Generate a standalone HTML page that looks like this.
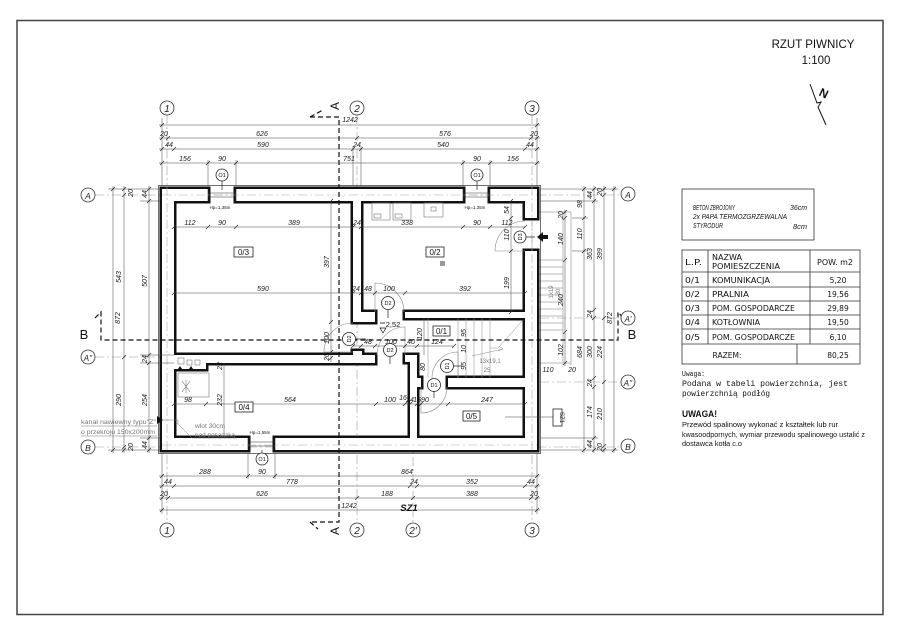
<!DOCTYPE html>
<html><head><meta charset="utf-8">
<style>
html,body{margin:0;padding:0;background:#fff;}
svg{display:block;}
.d{font-family:"Liberation Sans",sans-serif;font-style:italic;font-size:7px;fill:#1a1a1a;}
.t{font-family:"DejaVu Sans","Liberation Sans",sans-serif;font-size:7.5px;fill:#111;}
.b{font-family:"Liberation Sans",sans-serif;font-style:italic;font-size:10px;fill:#222;}
.g{font-family:"Liberation Sans",sans-serif;font-size:6px;fill:#777;}
</style></head><body>
<svg width="900" height="636" viewBox="0 0 900 636" xmlns="http://www.w3.org/2000/svg">
<rect width="900" height="636" fill="#fff"/>
<rect x="17" y="20.5" width="866" height="594" fill="none" stroke="#444" stroke-width="1.5"/>

<text x="813" y="48" text-anchor="middle" font-family="Liberation Sans,sans-serif" font-size="11.5" fill="#111">RZUT PIWNICY</text>
<text x="816" y="64" text-anchor="middle" font-family="Liberation Sans,sans-serif" font-size="11.5" fill="#111">1:100</text>
<polyline points="810,84 817,103 821,102 818,107 826,125" fill="none" stroke="#111" stroke-width="1"/>
<text transform="translate(822,97) rotate(25)" text-anchor="middle" font-family="Liberation Sans,sans-serif" font-weight="bold" font-size="12" fill="#111">N</text>

<g stroke="#999" stroke-width="0.6" stroke-dasharray="9,3,2,3" fill="none">
<path d="M167,115V523M357,115V523M532,115V523M413,440V523"/>
<path d="M95,195H621M95,357H178M95,447H621M540,318H621M540,382H621"/>
</g>

<g stroke="#777" stroke-width="0.5" fill="none">
<path d="M537,212H571M537,363H571M563,212V363M571,212V365"/>
<path d="M537,260H563M537,267H563M537,274H563M537,281H563M537,288H563M537,295H563M537,302H563M537,309H563M537,316H563M537,323H563M537,330H563"/>
</g>
<text class="g" transform="translate(553,292) rotate(-90)" text-anchor="middle">1x19</text>
<text class="g" transform="translate(560,292) rotate(-90)" text-anchor="middle">30</text>

<g fill="#111" stroke="#111" stroke-width="5">
<rect x="162" y="189" width="46" height="12"/>
<rect x="236" y="189" width="227" height="12"/>
<rect x="490" y="189" width="47" height="12"/>
<rect x="162" y="189" width="12" height="261"/>
<rect x="162" y="438" width="86" height="12"/>
<rect x="275" y="438" width="262" height="12"/>
<rect x="525" y="189" width="12" height="29"/>
<rect x="525" y="251" width="12" height="199"/>
<rect x="353" y="201" width="8" height="121"/>
<rect x="353" y="312" width="22" height="10"/>
<rect x="405" y="312" width="120" height="6"/>
<rect x="206" y="355" width="169" height="8"/>
<rect x="174" y="355" width="32" height="14"/>
<rect x="353" y="351" width="9" height="4"/>
<rect x="405" y="355" width="12" height="7"/>
<rect x="410" y="362" width="7" height="76"/>
<rect x="417" y="378" width="4" height="9"/>
<rect x="448" y="378" width="77" height="9"/>
</g>
<g fill="#fff">
<rect x="162" y="189" width="46" height="12"/>
<rect x="236" y="189" width="227" height="12"/>
<rect x="490" y="189" width="47" height="12"/>
<rect x="162" y="189" width="12" height="261"/>
<rect x="162" y="438" width="86" height="12"/>
<rect x="275" y="438" width="262" height="12"/>
<rect x="525" y="189" width="12" height="29"/>
<rect x="525" y="251" width="12" height="199"/>
<rect x="353" y="201" width="8" height="121"/>
<rect x="353" y="312" width="22" height="10"/>
<rect x="405" y="312" width="120" height="6"/>
<rect x="206" y="355" width="169" height="8"/>
<rect x="174" y="355" width="32" height="14"/>
<rect x="353" y="351" width="9" height="4"/>
<rect x="405" y="355" width="12" height="7"/>
<rect x="410" y="362" width="7" height="76"/>
<rect x="417" y="378" width="4" height="9"/>
<rect x="448" y="378" width="77" height="9"/>
</g>
<rect x="158.5" y="185.5" width="382" height="268" fill="none" stroke="#333" stroke-width="0.7"/>
<g stroke="#aaa" stroke-width="0.6" stroke-dasharray="9,3,2,3" fill="none">
<path d="M167,186V453M532,186V453M162,195H537M162,445H537"/>
</g>

<g stroke="#333" stroke-width="0.6">
<path d="M208,193H236M208,197H236M463,193H490M463,197H490M248,442H275M248,446H275"/>
<path d="M208,189V201M236,189V201M463,189V201M490,189V201M248,438V450M275,438V450"/>
</g>
<text x="220" y="209" text-anchor="middle" font-family="Liberation Sans,sans-serif" font-size="4.5" fill="#111">Hp=1,35m</text>
<text x="475" y="209" text-anchor="middle" font-family="Liberation Sans,sans-serif" font-size="4.5" fill="#111">Hp=1,35m</text>
<text x="260" y="434" text-anchor="middle" font-family="Liberation Sans,sans-serif" font-size="4.5" fill="#111">Hp=1,55m</text>

<g stroke="#777" stroke-width="0.6" fill="none">
<rect x="372" y="203" width="18" height="17"/><rect x="374" y="214" width="7" height="4"/>
<rect x="393" y="203" width="18" height="17"/><rect x="395" y="214" width="7" height="4"/>
<rect x="424" y="203" width="19" height="14"/><rect x="431" y="207" width="5" height="4"/>
<rect x="178" y="358" width="6" height="6"/><rect x="187" y="360" width="5" height="5"/><rect x="195" y="360" width="5" height="5"/>
<rect x="178" y="373" width="31" height="24"/>
<path d="M182,381L190,392M182,392L190,381M186,380V393"/>
</g>
<rect x="440" y="261" width="5" height="5" fill="#999"/>
<path d="M178,369l2,-3l2,3zM189,369l2,-3l2,3z" fill="#111"/>

<g stroke="#888" stroke-width="0.5" fill="none">
<path d="M428,318V378M458,318V378M466,318V378M474,318V378M482,318V378M490,318V378M490,348H498L523,320"/>
<path d="M472,356L503,349M499,346l4,3l-5,2"/>
</g>
<text class="g" x="490" y="363" text-anchor="middle">13x19,1</text>
<text class="g" x="487" y="372" text-anchor="middle">25</text>

<g stroke="#888" stroke-width="0.6" fill="none">
<path d="M525,251H495A30,30 0 0 1 525,221"/>
<path d="M375,312V283A29,29 0 0 1 404,312"/>
<path d="M353,352H324A29,29 0 0 1 353,323"/>
<path d="M405,355V327A28,28 0 0 0 377,355"/>
<path d="M421,387V413A26,26 0 0 0 447,387"/>
<path d="M458,378V352A26,26 0 0 0 432,378"/>
</g>

<g stroke="#444" stroke-width="0.5" fill="none">
<path d="M159,125H540M159,138H540M159,149H540M159,163H540"/>
<path d="M162,118V186M537,118V186M208,160V186M236,160V186M463,160V186M490,160V186M353,146V186M361,146V186"/>
<path d="M159,476H540M159,486H540M159,498H540M159,510H540"/>
<path d="M162,453V514M537,453V514M248,453V479M275,453V479"/>
<path d="M113,186V453M124,186V453M149,186V453"/>
<path d="M108,189H160M108,450H160M140,201H160M140,438H160M140,355H174M140,363H174"/>
<path d="M565,210V366M584,186V453M594,186V453M604,186V453M614,186V453"/>
<path d="M540,189H618M540,450H618M540,201H598M540,438H598M572,218H588M572,251H588"/>
<path d="M174,227H525M174,293H525M353,346H454M174,404H525"/>
<path d="M331,201V362M511,201V312M224,363V438M424,318V355"/>
<path d="M505,417H553"/>
</g>
<g stroke="#222" stroke-width="0.7" fill="none">
<path d="M160,127l4,-4M535,127l4,-4"/>
<path d="M160,140l4,-4M166,140l4,-4M355,140l4,-4M529,140l4,-4M535,140l4,-4"/>
<path d="M160,151l4,-4M172,151l4,-4M351,151l4,-4M359,151l4,-4M523,151l4,-4M535,151l4,-4"/>
<path d="M160,165l4,-4M206,165l4,-4M234,165l4,-4M461,165l4,-4M488,165l4,-4M535,165l4,-4"/>
<path d="M160,478l4,-4M246,478l4,-4M273,478l4,-4M535,478l4,-4"/>
<path d="M160,488l4,-4M172,488l4,-4M408,488l4,-4M415,488l4,-4M523,488l4,-4M535,488l4,-4"/>
<path d="M160,500l4,-4M166,500l4,-4M355,500l4,-4M411,500l4,-4M529,500l4,-4M535,500l4,-4"/>
<path d="M160,512l4,-4M535,512l4,-4"/>
<path d="M111,191l4,-4M111,452l4,-4"/>
<path d="M122,191l4,-4M122,197l4,-4M122,359l4,-4M122,449l4,-4M122,452l4,-4"/>
<path d="M147,191l4,-4M147,203l4,-4M147,357l4,-4M147,365l4,-4M147,440l4,-4M147,452l4,-4"/>
<path d="M563,214l4,-4M563,220l4,-4M563,262l4,-4M563,334l4,-4M563,365l4,-4"/>
<path d="M582,191l4,-4M582,220l4,-4M582,253l4,-4M582,452l4,-4"/>
<path d="M592,191l4,-4M592,203l4,-4M592,312l4,-4M592,320l4,-4M592,380l4,-4M592,389l4,-4M592,440l4,-4M592,452l4,-4"/>
<path d="M602,191l4,-4M602,197l4,-4M602,320l4,-4M602,384l4,-4M602,448l4,-4M602,452l4,-4"/>
<path d="M612,191l4,-4M612,452l4,-4"/>
<path d="M172,229l4,-4M206,229l4,-4M234,229l4,-4M351,229l4,-4M359,229l4,-4M461,229l4,-4M488,229l4,-4M523,229l4,-4"/>
<path d="M172,295l4,-4M351,295l4,-4M359,295l4,-4M373,295l4,-4M403,295l4,-4M523,295l4,-4"/>
<path d="M351,348l4,-4M359,348l4,-4M373,348l4,-4M403,348l4,-4M415,348l4,-4M452,348l4,-4"/>
<path d="M172,406l4,-4M204,406l4,-4M374,406l4,-4M403,406l4,-4M408,406l4,-4M415,406l4,-4M419,406l4,-4M446,406l4,-4M523,406l4,-4"/>
<path d="M329,203l4,-4M329,324l4,-4M329,354l4,-4M329,360l4,-4"/>
<path d="M509,203l4,-4M509,220l4,-4M509,253l4,-4M509,314l4,-4"/>
</g>

<g class="d" text-anchor="middle">
<text x="350" y="122">1242</text>
<text x="164" y="136">20</text><text x="262" y="136">626</text><text x="445" y="136">576</text><text x="534" y="136">20</text>
<text x="169" y="147">44</text><text x="263" y="147">590</text><text x="357" y="147">24</text><text x="443" y="147">540</text><text x="530" y="147">44</text>
<text x="185" y="161">156</text><text x="222" y="161">90</text><text x="349" y="161">751</text><text x="477" y="161">90</text><text x="513" y="161">156</text>
<text x="205" y="474">288</text><text x="262" y="474">90</text><text x="407" y="474">864</text>
<text x="168" y="484">44</text><text x="292" y="484">778</text><text x="414" y="484">24</text><text x="472" y="484">352</text><text x="531" y="484">44</text>
<text x="164" y="496">20</text><text x="262" y="496">626</text><text x="387" y="496">188</text><text x="472" y="496">388</text><text x="534" y="496">20</text>
<text x="349" y="508">1242</text>
<text x="190" y="225">112</text><text x="222" y="225">90</text><text x="294" y="225">389</text><text x="357" y="225">24</text><text x="407" y="225">338</text><text x="477" y="225">90</text><text x="507" y="225">112</text>
<text x="263" y="291">590</text><text x="356" y="291">24</text><text x="368" y="291">48</text><text x="389" y="291">100</text><text x="465" y="291">392</text>
<text x="368" y="344">48</text><text x="391" y="344">100</text><text x="411" y="344">40</text><text x="437" y="344">124</text>
<text x="188" y="402">98</text><text x="290" y="402">564</text><text x="390" y="402">100</text><text x="403" y="400">16</text><text x="410" y="402">24</text><text x="417" y="402">15</text><text x="425" y="402">90</text><text x="487" y="402">247</text>
<text x="548" y="372">110</text><text x="572" y="372">20</text>
</g>
<text x="409" y="511" text-anchor="middle" font-family="Liberation Sans,sans-serif" font-style="italic" font-weight="bold" font-size="9.5" fill="#111">SZ1</text>

<g class="d" text-anchor="middle">
<text transform="translate(120,318) rotate(-90)">872</text>
<text transform="translate(121,277) rotate(-90)">543</text>
<text transform="translate(121,400) rotate(-90)">290</text>
<text transform="translate(133,193) rotate(-90)">20</text>
<text transform="translate(133,447) rotate(-90)">20</text>
<text transform="translate(147,194) rotate(-90)">44</text>
<text transform="translate(147,281) rotate(-90)">507</text>
<text transform="translate(147,359) rotate(-90)">24</text>
<text transform="translate(147,400) rotate(-90)">254</text>
<text transform="translate(147,445) rotate(-90)">44</text>
<text transform="translate(563,215) rotate(-90)">20</text>
<text transform="translate(563,239) rotate(-90)">140</text>
<text transform="translate(563,300) rotate(-90)">240</text>
<text transform="translate(563,350) rotate(-90)">102</text>
<text transform="translate(582,204) rotate(-90)">98</text>
<text transform="translate(582,234) rotate(-90)">110</text>
<text transform="translate(582,352) rotate(-90)">684</text>
<text transform="translate(592,195) rotate(-90)">44</text>
<text transform="translate(592,254) rotate(-90)">363</text>
<text transform="translate(592,314) rotate(-90)">24</text>
<text transform="translate(592,352) rotate(-90)">300</text>
<text transform="translate(592,383) rotate(-90)">24</text>
<text transform="translate(592,412) rotate(-90)">174</text>
<text transform="translate(592,444) rotate(-90)">44</text>
<text transform="translate(602,192) rotate(-90)">20</text>
<text transform="translate(602,254) rotate(-90)">399</text>
<text transform="translate(602,352) rotate(-90)">224</text>
<text transform="translate(602,414) rotate(-90)">210</text>
<text transform="translate(602,447) rotate(-90)">20</text>
<text transform="translate(612,318) rotate(-90)">872</text>
<text transform="translate(329,262) rotate(-90)">397</text>
<text transform="translate(329,338) rotate(-90)">100</text>
<text transform="translate(329,357) rotate(-90)">20</text>
<text transform="translate(509,210) rotate(-90)">54</text>
<text transform="translate(509,235) rotate(-90)">110</text>
<text transform="translate(509,283) rotate(-90)">199</text>
<text transform="translate(222,400) rotate(-90)">232</text>
<text transform="translate(222,366) rotate(-90)">22</text>
<text transform="translate(422,334) rotate(-90)">120</text>
<text transform="translate(466,333) rotate(-90)">95</text>
<text transform="translate(466,349) rotate(-90)">10</text>
<text transform="translate(425,367) rotate(-90)">80</text>
<text transform="translate(466,366) rotate(-90)">95</text>
</g>

<g stroke="#111" stroke-width="1.2" stroke-dasharray="5,3" fill="none">
<path d="M310,117H339V522H310"/>
<path d="M310,117L323,110M310,522L318,529"/>
<path d="M95,318L101,312V340H618V312L624,319"/>
</g>
<text transform="translate(339,106) rotate(-90)" text-anchor="middle" font-family="Liberation Sans,sans-serif" font-size="12" fill="#111">A</text>
<text transform="translate(339,531) rotate(-90)" text-anchor="middle" font-family="Liberation Sans,sans-serif" font-size="12" fill="#111">A</text>
<text x="84" y="339" text-anchor="middle" font-family="Liberation Sans,sans-serif" font-size="13" fill="#111">B</text>
<text x="632" y="339" text-anchor="middle" font-family="Liberation Sans,sans-serif" font-size="13" fill="#111">B</text>

<g fill="#fff" stroke="#333" stroke-width="0.8">
<circle cx="167" cy="108" r="7"/><circle cx="357" cy="108" r="7"/><circle cx="532" cy="108" r="7"/>
<circle cx="167" cy="530" r="7"/><circle cx="357" cy="530" r="7"/><circle cx="413" cy="530" r="7"/><circle cx="532" cy="530" r="7"/>
<circle cx="88" cy="195" r="7"/><circle cx="88" cy="357" r="7"/><circle cx="88" cy="447" r="7"/>
<circle cx="628" cy="194" r="7"/><circle cx="628" cy="318" r="7"/><circle cx="628" cy="382" r="7"/><circle cx="628" cy="446" r="7"/>
</g>
<g class="b" text-anchor="middle">
<text x="167" y="112">1</text><text x="357" y="112">2</text><text x="532" y="112">3</text>
<text x="167" y="534">1</text><text x="357" y="534">2</text><text x="413" y="534">2'</text><text x="532" y="534">3</text>
<text x="88" y="199" font-size="8.5">A</text><text x="88" y="361" font-size="8">A''</text><text x="88" y="451" font-size="8.5">B</text>
<text x="628" y="198" font-size="8.5">A</text><text x="628" y="322" font-size="8">A'</text><text x="628" y="386" font-size="8">A''</text><text x="628" y="450" font-size="8.5">B</text>
</g>

<g stroke="#222" stroke-width="0.7">
<path d="M222,181V190M477,181V190M262,453V450M526,237H535M388,310V318M356,339H366M390,356V364M453,366H462M434,391V398"/>
</g>
<g fill="#fff" stroke="#222" stroke-width="0.8">
<circle cx="222" cy="175" r="6"/><circle cx="477" cy="175" r="6"/><circle cx="262" cy="459" r="6"/>
<circle cx="520" cy="237" r="6"/><circle cx="388" cy="303" r="6.5"/><circle cx="349" cy="339" r="6.5"/>
<circle cx="390" cy="350" r="6.5"/><circle cx="447" cy="366" r="6.5"/><circle cx="434" cy="385" r="6.5"/>
</g>
<g font-family="Liberation Sans,sans-serif" font-size="5.5" fill="#111" text-anchor="middle">
<text x="222" y="177">O1</text><text x="477" y="177">O1</text><text x="262" y="461">O1</text>
<text transform="translate(522,237) rotate(-90)">D3</text>
<text x="388" y="305">D2</text>
<text transform="translate(351,339) rotate(-90)">D2</text>
<text x="390" y="352">D2</text>
<text transform="translate(449,366) rotate(-90)">D1</text>
<text x="434" y="387">D1</text>
</g>
<path d="M537,237L543,232V235H548V239H543V242Z" fill="#111"/>
<path d="M380,323H385" stroke="#111" stroke-width="0.8"/>
<path d="M380,328H386L383,333Z" fill="none" stroke="#111" stroke-width="0.7"/>
<text x="393" y="327" text-anchor="middle" font-family="Liberation Sans,sans-serif" font-size="7.5" fill="#111">2,52</text>

<g fill="#fff" stroke="#222" stroke-width="0.8">
<rect x="234" y="247" width="19" height="10"/><rect x="426" y="247" width="18" height="10"/>
<rect x="433" y="326" width="17" height="10"/><rect x="235" y="402" width="18" height="10"/>
<rect x="463" y="411" width="17" height="10"/><rect x="553" y="409" width="9" height="17"/>
</g>
<g font-family="Liberation Sans,sans-serif" font-size="8" fill="#111" text-anchor="middle">
<text x="243.5" y="255">0/3</text><text x="435" y="255">0/2</text><text x="441.5" y="334">0/1</text>
<text x="244" y="410">0/4</text><text x="471.5" y="419">0/5</text>
<text transform="translate(560,417.5) rotate(90)" font-size="6">SZ1</text>
</g>

<g font-family="Liberation Sans,sans-serif" font-size="6.5" fill="#777">
<text x="81" y="424" textLength="75" lengthAdjust="spacingAndGlyphs">kanał nawiewny typu"Z"</text>
<text x="81" y="434" textLength="74" lengthAdjust="spacingAndGlyphs">o przekroju 150x200mm</text>
<text x="195" y="428" textLength="30" lengthAdjust="spacingAndGlyphs">wlot 30cm</text>
<text x="195" y="437" textLength="40" lengthAdjust="spacingAndGlyphs">nad posadzką</text>
</g>
<g stroke="#777" stroke-width="0.5" fill="none">
<path d="M81,426H157M81,436H157M160,420H178V424M177,423L192,438H237"/>
</g>
<path d="M157,416L163,420L157,424Z" fill="#111"/>

<rect x="682" y="189" width="132" height="51" fill="none" stroke="#333" stroke-width="0.8"/>
<g font-family="Liberation Sans,sans-serif" font-style="italic" font-size="7.5" fill="#111">
<text x="693" y="210" textLength="42" lengthAdjust="spacingAndGlyphs">BETON ZBROJONY</text>
<text x="790" y="210" textLength="17" lengthAdjust="spacingAndGlyphs">36cm</text>
<text x="693" y="219" textLength="94" lengthAdjust="spacingAndGlyphs">2x PAPA TERMOZGRZEWALNA</text>
<text x="693" y="228" textLength="30" lengthAdjust="spacingAndGlyphs">STYRODUR</text>
<text x="793" y="229" textLength="14" lengthAdjust="spacingAndGlyphs">8cm</text>
</g>

<g stroke="#333" stroke-width="0.8" fill="none">
<rect x="682" y="250" width="178" height="114"/>
<path d="M682,272H860M682,287H860M682,301H860M682,315H860M682,329H860M682,344H860"/>
<path d="M708,250V344M810,250V344M797,344V364"/>
</g>
<g class="t">
<text x="685" y="265" textLength="17" lengthAdjust="spacingAndGlyphs">L.P.</text>
<text x="712" y="260" textLength="30" lengthAdjust="spacingAndGlyphs">NAZWA</text>
<text x="712" y="269" textLength="68" lengthAdjust="spacingAndGlyphs">POMIESZCZENIA</text>
<text x="817" y="265" textLength="36" lengthAdjust="spacingAndGlyphs">POW. m2</text>
<text x="685" y="283" textLength="15" lengthAdjust="spacingAndGlyphs">0/1</text>
<text x="712" y="283" textLength="58" lengthAdjust="spacingAndGlyphs">KOMUNIKACJA</text>
<text x="685" y="297" textLength="15" lengthAdjust="spacingAndGlyphs">0/2</text>
<text x="712" y="297" textLength="37" lengthAdjust="spacingAndGlyphs">PRALNIA</text>
<text x="685" y="311" textLength="15" lengthAdjust="spacingAndGlyphs">0/3</text>
<text x="712" y="311" textLength="83" lengthAdjust="spacingAndGlyphs">POM. GOSPODARCZE</text>
<text x="685" y="325" textLength="15" lengthAdjust="spacingAndGlyphs">0/4</text>
<text x="712" y="325" textLength="48" lengthAdjust="spacingAndGlyphs">KOTŁOWNIA</text>
<text x="685" y="340" textLength="15" lengthAdjust="spacingAndGlyphs">0/5</text>
<text x="712" y="340" textLength="83" lengthAdjust="spacingAndGlyphs">POM. GOSPODARCZE</text>
</g>
<g class="t" text-anchor="middle">
<text x="838" y="283">5,20</text><text x="838" y="297">19,56</text><text x="838" y="311">29,89</text>
<text x="838" y="325">19,50</text><text x="838" y="340">6,10</text>
<text x="727" y="358">RAZEM:</text><text x="838" y="358">80,25</text>
</g>

<g fill="#111">
<text x="682" y="376" font-family="Liberation Mono,monospace" font-size="7.5" textLength="23" lengthAdjust="spacingAndGlyphs">Uwaga:</text>
<text x="682" y="386" font-family="Liberation Mono,monospace" font-size="8" textLength="166" lengthAdjust="spacingAndGlyphs">Podana w tabeli powierzchnia, jest</text>
<text x="682" y="396" font-family="Liberation Mono,monospace" font-size="8" textLength="88" lengthAdjust="spacingAndGlyphs">powierzchnią podłóg</text>
<text x="682" y="417" font-family="Liberation Sans,sans-serif" font-weight="bold" font-size="9.5" textLength="35" lengthAdjust="spacingAndGlyphs">UWAGA!</text>
<text x="682" y="427" font-family="Liberation Sans,sans-serif" font-size="7" textLength="156" lengthAdjust="spacingAndGlyphs">Przewód spalinowy wykonać z kształtek lub rur</text>
<text x="682" y="437" font-family="Liberation Sans,sans-serif" font-size="7" textLength="183" lengthAdjust="spacingAndGlyphs">kwasoodpornych, wymiar przewodu spalinowego ustalić z</text>
<text x="682" y="446" font-family="Liberation Sans,sans-serif" font-size="7" textLength="60" lengthAdjust="spacingAndGlyphs">dostawca kotła c.o</text>
</g>
</svg>
</body></html>
